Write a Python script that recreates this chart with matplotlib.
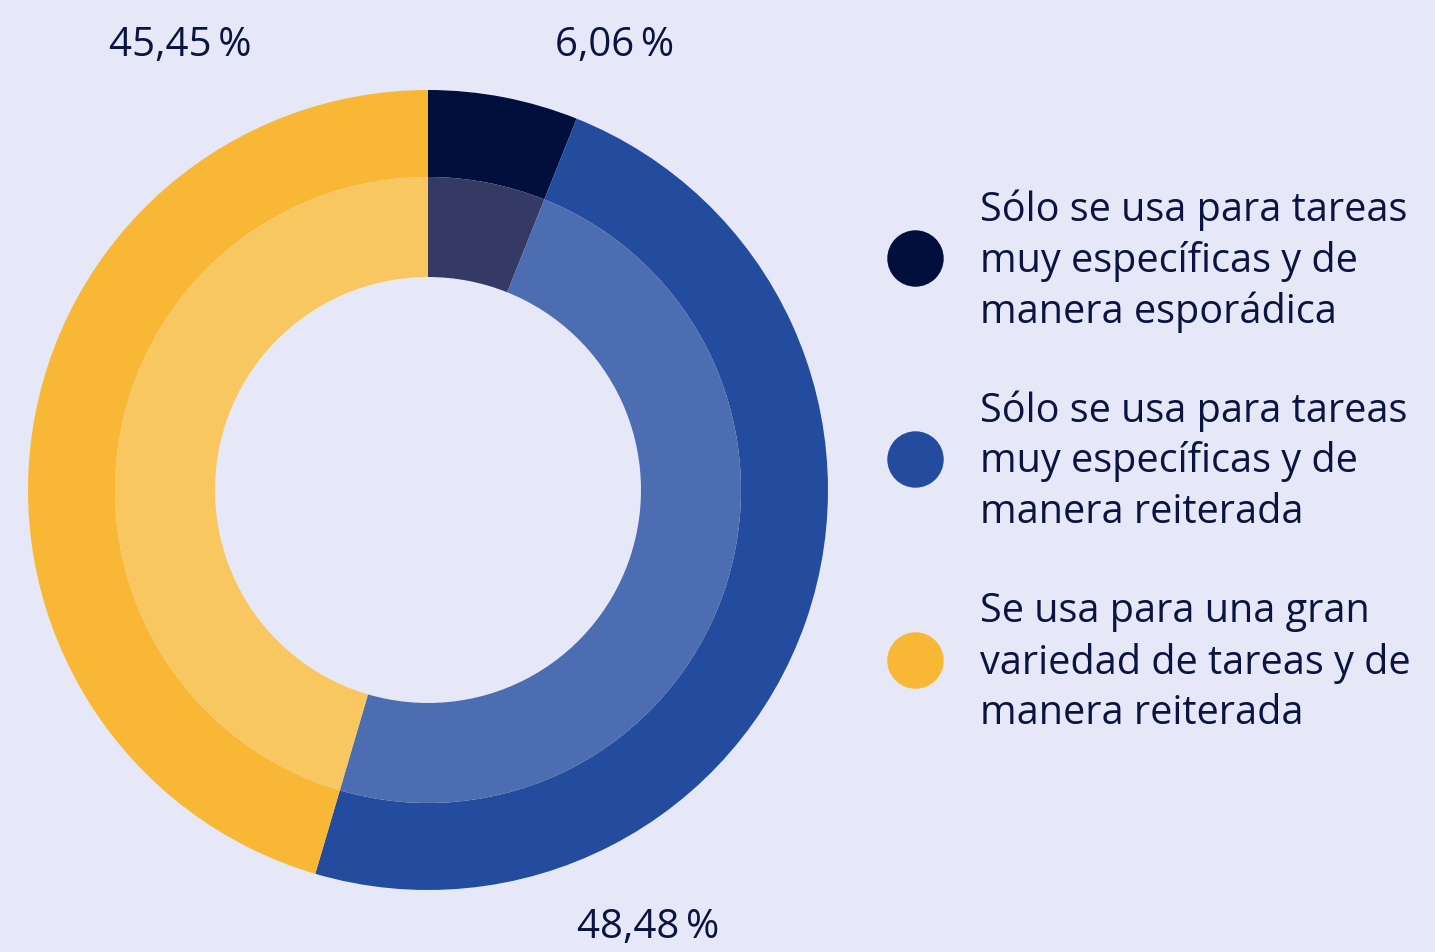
import matplotlib
matplotlib.use("Agg")
import matplotlib.pyplot as plt

categories = [
    "Sólo se usa para tareas\nmuy específicas y de\nmanera esporádica",
    "Sólo se usa para tareas\nmuy específicas y de\nmanera reiterada",
    "Se usa para una gran\nvariedad de tareas y de\nmanera reiterada",
]
values = [6.06, 48.48, 45.45]
value_labels = ["6,06\u2009%", "48,48\u2009%", "45,45\u2009%"]
outer_colors = ["#000F3C", "#234B9E", "#F8B836"]
inner_colors = ["#343A63", "#4C6DB2", "#F9C75F"]

BG = "#E6E8F8"
TXT = "#0A1440"
W, H = 1435, 952

plt.rcParams['font.family'] = ['Open Sans', 'DejaVu Sans']
fig = plt.figure(figsize=(W / 100, H / 100), dpi=100, facecolor=BG)

# pie axes: center (428, 490), radius 400 px
cx, cy, R = 428, 490, 400
ax = fig.add_axes([(cx - R) / W, (H - (cy + R)) / H, 2 * R / W, 2 * R / H])
ax.set_facecolor(BG)
ax.pie(values, radius=1.0, colors=outer_colors, startangle=90, counterclock=False,
       wedgeprops=dict(width=0.2175, linewidth=0))
ax.pie(values, radius=0.7825, colors=inner_colors, startangle=90, counterclock=False,
       wedgeprops=dict(width=0.25, linewidth=0))
ax.set_xlim(-1, 1)
ax.set_ylim(-1, 1)
ax.set_aspect('auto')
ax.axis('off')

# overlay axes in pixel coordinates
ov = fig.add_axes([0, 0, 1, 1], facecolor='none')
ov.set_xlim(0, W)
ov.set_ylim(H, 0)
ov.axis('off')

label_pos = [(615, 46), (648, 928), (180, 46)]
for (x, y), lab in zip(label_pos, value_labels):
    ov.text(x, y, lab, ha='center', va='center', fontsize=29, color=TXT)

legend_y = [258, 459, 660]
for yc, cat, col in zip(legend_y, categories, outer_colors):
    ov.scatter([915], [yc], s=1650, color=col, linewidths=0, zorder=3)
    lines = cat.split("\n")
    for i, ln in enumerate(lines):
        ov.text(980, yc - 51 + 51 * i + 3, ln, ha='left', va='center', fontsize=28.5,
                color=TXT)

fig.savefig("out.png", dpi=100, facecolor=BG)
